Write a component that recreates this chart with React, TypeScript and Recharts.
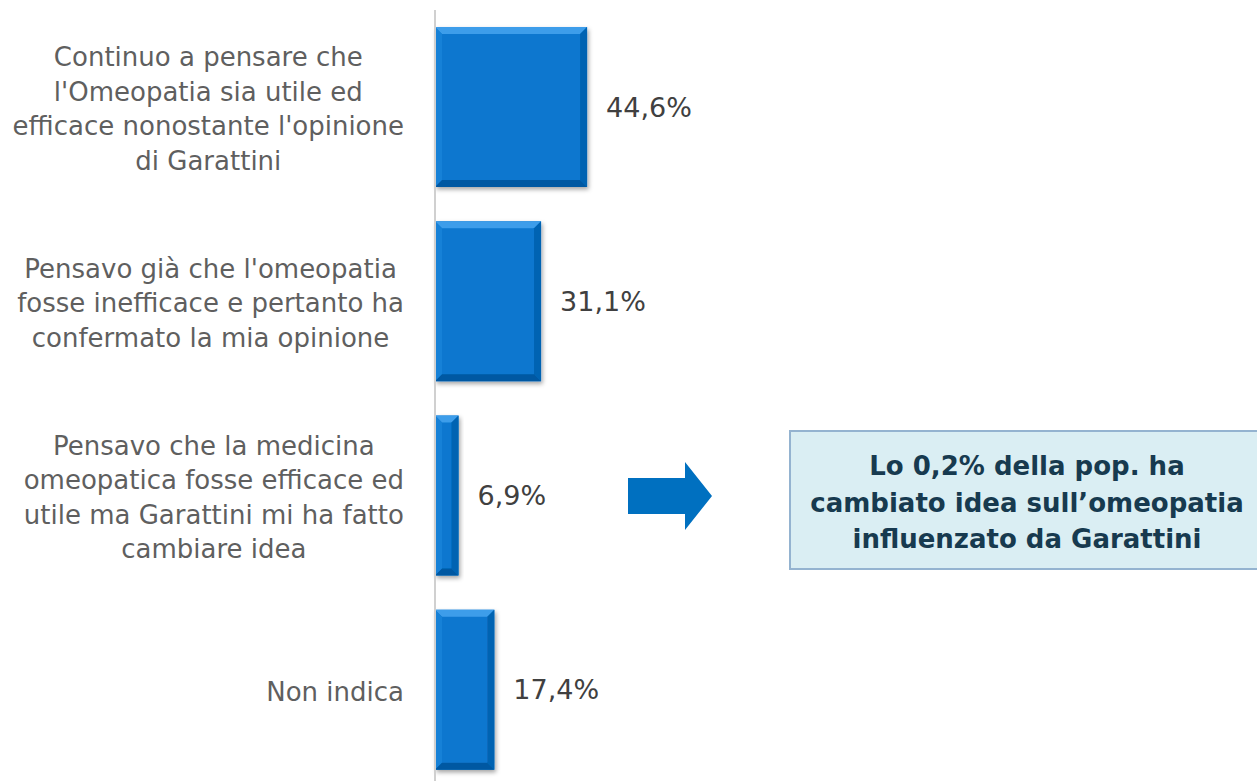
import React from 'react';
import { BarChart, Bar, XAxis, YAxis, LabelList } from 'recharts';

const categories = [
    "Continuo a pensare che\nl'Omeopatia sia utile ed\nefficace nonostante l'opinione\ndi Garattini",
    "Pensavo già che l'omeopatia\nfosse inefficace e pertanto ha\nconfermato la mia opinione",
    "Pensavo che la medicina\nomeopatica fosse efficace ed\nutile ma Garattini mi ha fatto\ncambiare idea",
    'Non indica',
];
const values = [44.6, 31.1, 6.9, 17.4];
const calloutLines = ['Lo 0,2% della pop. ha', 'cambiato idea sull\u2019omeopatia', 'influenzato da Garattini'];

const data = categories.map((c, i) => ({ name: c, value: values[i] }));

const FONT = '"DejaVu Sans", sans-serif';
const TICK_SIZE = 26;

let measureCtx: CanvasRenderingContext2D | null = null;
const textWidth = (s: string) => {
    if (!measureCtx) measureCtx = document.createElement('canvas').getContext('2d');
    if (!measureCtx) return s.length * TICK_SIZE * 0.55;
    measureCtx.font = `${TICK_SIZE}px "DejaVu Sans"`;
    return measureCtx.measureText(s).width;
};

// labels are centred on their own longest line, and right aligned as a block
const CategoryTick = (props: any) => {
    const { x, y, payload } = props;
    const lines: string[] = String(payload.value).split('\n');
    const lh = 34.5;
    const right = x - 23;
    const maxW = Math.max(...lines.map(textWidth));
    const cx = right - maxW / 2;
    const start = y + 2 - ((lines.length - 1) * lh) / 2;
    return (
        <text x={cx} y={start} textAnchor="middle" fill="#5F5F5F" fontSize={TICK_SIZE} fontFamily={FONT}>
            {lines.map((l, i) => (
                <tspan key={i} x={cx} y={start + i * lh} dy="0.35em">
                    {l}
                </tspan>
            ))}
        </text>
    );
};

const BevelBar = (props: any) => {
    const { x, y, width, height } = props;
    const b = Math.min(7, width / 2);
    return (
        <g filter="url(#barShadow)">
            <rect x={x} y={y} width={width} height={height} fill="#0977CF" />
            <polygon points={`${x},${y} ${x + width},${y} ${x + width - b},${y + b} ${x + b},${y + b}`} fill="#3E9DEA" />
            <polygon points={`${x},${y} ${x + b},${y + b} ${x + b},${y + height - b} ${x},${y + height}`} fill="#1781D7" />
            <polygon points={`${x + width},${y} ${x + width},${y + height} ${x + width - b},${y + height - b} ${x + width - b},${y + b}`} fill="#0664B2" />
            <polygon points={`${x},${y + height} ${x + b},${y + height - b} ${x + width - b},${y + height - b} ${x + width},${y + height}`} fill="#0559A2" />
        </g>
    );
};

export default function App() {
    return (
        <div style={{ position: 'absolute', left: 0, top: 0, width: 1257, height: 781, overflow: 'hidden', background: '#fff' }}>
            <BarChart
                width={1257}
                height={790}
                data={data}
                layout="vertical"
                margin={{ top: 10, right: 481, left: 0, bottom: 3 }}
                barCategoryGap="8.75%"
            >
                <defs>
                    <filter id="barShadow" x="-20%" y="-20%" width="140%" height="140%">
                        <feDropShadow dx="1.5" dy="2.5" stdDeviation="2" floodColor="#000" floodOpacity="0.35" />
                    </filter>
                </defs>
                <XAxis type="number" domain={[0, 100]} hide />
                <YAxis
                    type="category"
                    dataKey="name"
                    width={435}
                    axisLine={{ stroke: '#D0D0D0', strokeWidth: 2 }}
                    tickLine={false}
                    tick={<CategoryTick />}
                    interval={0}
                />
                <Bar dataKey="value" shape={<BevelBar />} isAnimationActive={false}>
                    <LabelList
                        dataKey="value"
                        position="right"
                        offset={19}
                        formatter={(v: any) => `${String(v).replace('.', ',')}%`}
                        style={{ fill: '#404040', fontSize: 27, fontFamily: FONT }}
                    />
                </Bar>
            </BarChart>
            <svg style={{ position: 'absolute', left: 0, top: 0 }} width={1257} height={781}>
                <polygon points="628,478 685,478 685,462 712,496 685,530 685,514 628,514" fill="#0070C0" />
                <rect x={790} y={431} width={480} height={138} fill="#DAEEF3" stroke="#94B3D0" strokeWidth={2} />
                {calloutLines.map((l, i) => (
                    <text
                        key={i}
                        x={1027}
                        y={466 + i * 36.5}
                        dy="0.35em"
                        textAnchor="middle"
                        fill="#173A4F"
                        fontSize={26}
                        fontWeight="bold"
                        fontFamily={FONT}
                    >
                        {l}
                    </text>
                ))}
            </svg>
        </div>
    );
}
